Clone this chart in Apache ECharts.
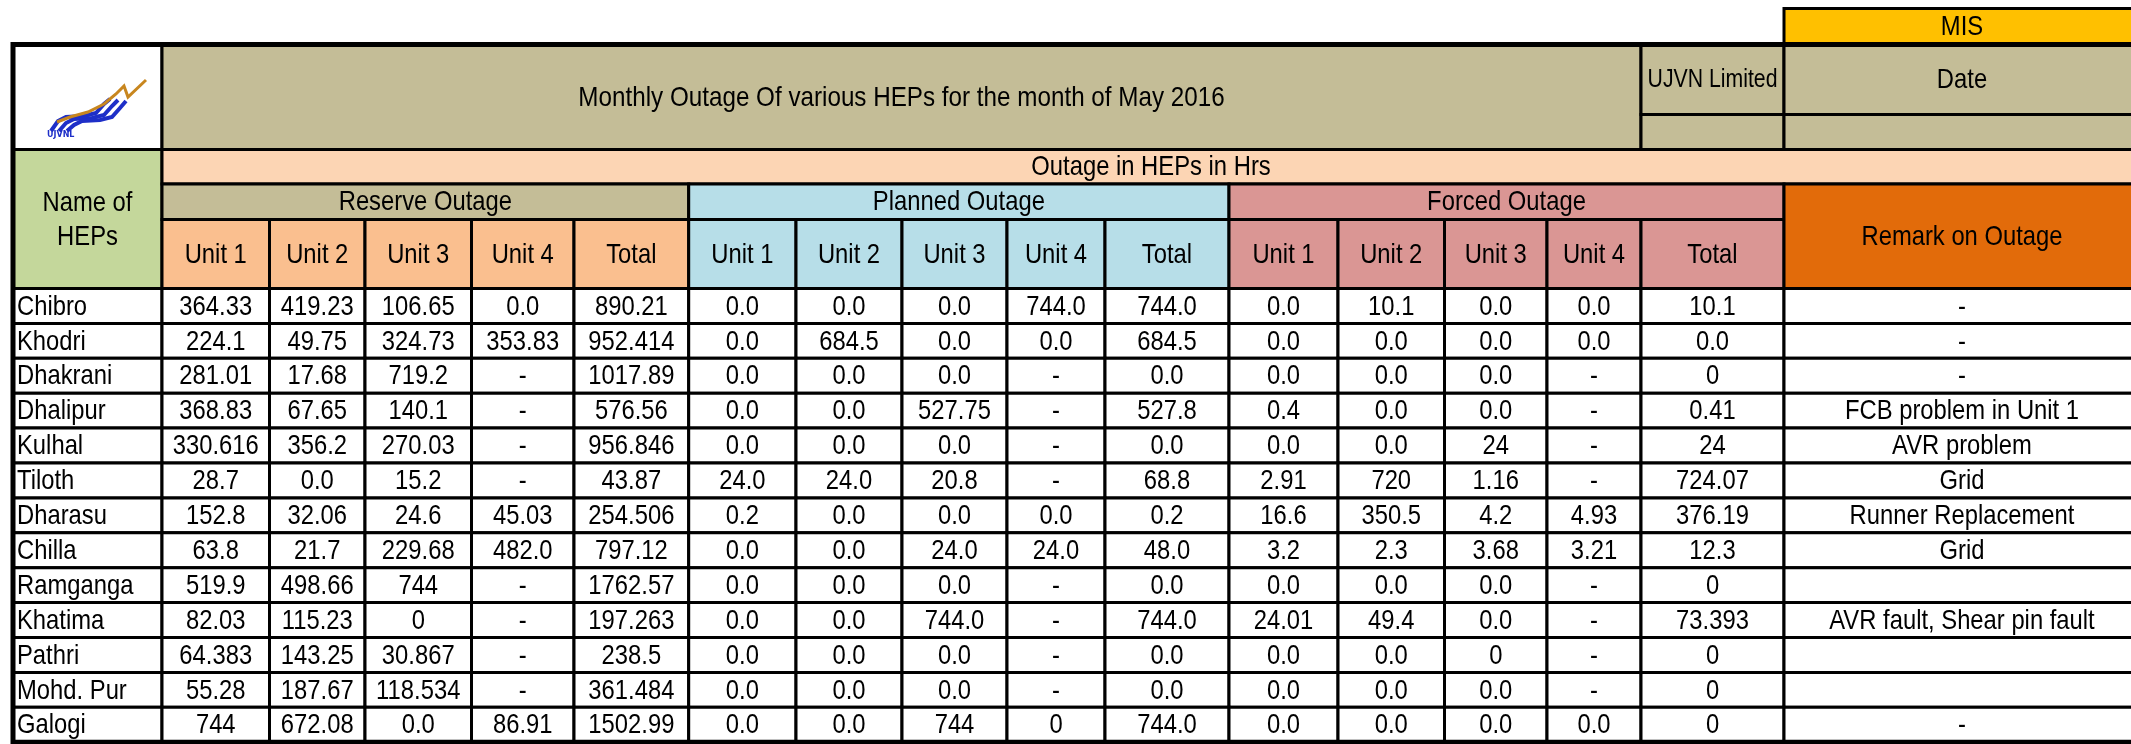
<!DOCTYPE html>
<html>
<head>
<meta charset="utf-8">
<script src="https://cdn.jsdelivr.net/npm/echarts@6/dist/echarts.min.js"></script>
<style>html,body{margin:0;padding:0;background:#fff}#c{width:2131px;height:744px}</style>
</head>
<body>
<div id="c"></div>
<script>
// ---------- DATA ----------
const title = 'Monthly Outage Of various HEPs for the month of May 2016';
const stations = ['Chibro','Khodri','Dhakrani','Dhalipur','Kulhal','Tiloth','Dharasu','Chilla','Ramganga','Khatima','Pathri','Mohd. Pur','Galogi'];
const unitLabels = ['Unit 1','Unit 2','Unit 3','Unit 4','Total'];
const groupLabels = ['Reserve Outage','Planned Outage','Forced Outage'];
const reserveU1 = ['364.33','224.1','281.01','368.83','330.616','28.7','152.8','63.8','519.9','82.03','64.383','55.28','744'];
const reserveU2 = ['419.23','49.75','17.68','67.65','356.2','0.0','32.06','21.7','498.66','115.23','143.25','187.67','672.08'];
const reserveU3 = ['106.65','324.73','719.2','140.1','270.03','15.2','24.6','229.68','744','0','30.867','118.534','0.0'];
const reserveU4 = ['0.0','353.83','-','-','-','-','45.03','482.0','-','-','-','-','86.91'];
const reserveTotal = ['890.21','952.414','1017.89','576.56','956.846','43.87','254.506','797.12','1762.57','197.263','238.5','361.484','1502.99'];
const plannedU1 = ['0.0','0.0','0.0','0.0','0.0','24.0','0.2','0.0','0.0','0.0','0.0','0.0','0.0'];
const plannedU2 = ['0.0','684.5','0.0','0.0','0.0','24.0','0.0','0.0','0.0','0.0','0.0','0.0','0.0'];
const plannedU3 = ['0.0','0.0','0.0','527.75','0.0','20.8','0.0','24.0','0.0','744.0','0.0','0.0','744'];
const plannedU4 = ['744.0','0.0','-','-','-','-','0.0','24.0','-','-','-','-','0'];
const plannedTotal = ['744.0','684.5','0.0','527.8','0.0','68.8','0.2','48.0','0.0','744.0','0.0','0.0','744.0'];
const forcedU1 = ['0.0','0.0','0.0','0.4','0.0','2.91','16.6','3.2','0.0','24.01','0.0','0.0','0.0'];
const forcedU2 = ['10.1','0.0','0.0','0.0','0.0','720','350.5','2.3','0.0','49.4','0.0','0.0','0.0'];
const forcedU3 = ['0.0','0.0','0.0','0.0','24','1.16','4.2','3.68','0.0','0.0','0','0.0','0.0'];
const forcedU4 = ['0.0','0.0','-','-','-','-','4.93','3.21','-','-','-','-','0.0'];
const forcedTotal = ['10.1','0.0','0','0.41','24','724.07','376.19','12.3','0','73.393','0','0','0'];
const remarks = ['-','-','-','FCB problem in Unit 1','AVR problem','Grid','Runner Replacement','Grid','','AVR fault, Shear pin fault','','','-'];

// ---------- LAYOUT (column edges / row bands in axis units) ----------
const colEdges = [13,162,269.5,365,471.5,574,688.7,796,902,1007,1105,1229,1338,1444.5,1547,1641,1784,2140];
const bandTitle = [44.5,149.5], bandOutage = [149.5,184], bandGroup = [184,219.5], bandUnit = [219.5,288.5];
const dataTop = 288.5, rowH = 34.9;
const FONT = '"Liberation Sans", Arial, sans-serif';
const SX = 0.85;
const C = {tan:'#C4BD97', peach:'#FCD5B4', green:'#C4D79B', resv:'#FABF8F', plan:'#B7DEE8', forc:'#DA9694', remark:'#E26B0A', mis:'#FFC000', white:'#FFFFFF'};

const columns = [stations, reserveU1, reserveU2, reserveU3, reserveU4, reserveTotal,
  plannedU1, plannedU2, plannedU3, plannedU4, plannedTotal,
  forcedU1, forcedU2, forcedU3, forcedU4, forcedTotal, remarks];

// header cells: [x0, x1, y0, y1, text, fill, fontSize]
const headerCells = [];
headerCells.push([colEdges[0], colEdges[1], bandTitle[0], bandTitle[1], '', C.white, 28]);
headerCells.push([colEdges[1], colEdges[15], bandTitle[0], bandTitle[1], title, C.tan, 28.5]);
headerCells.push([colEdges[15], colEdges[16], bandTitle[0], 114.5, 'UJVN Limited', C.tan, 25]);
headerCells.push([colEdges[15], colEdges[16], 114.5, bandTitle[1], '', C.tan, 25]);
headerCells.push([colEdges[16], colEdges[17], bandTitle[0], 114.5, 'Date', C.tan, 28]);
headerCells.push([colEdges[16], colEdges[17], 114.5, bandTitle[1], '', C.tan, 28]);
headerCells.push([colEdges[16], colEdges[17], 8.5, bandTitle[0], 'MIS', C.mis, 28]);
headerCells.push([colEdges[0], colEdges[1], bandOutage[0], bandUnit[1], 'Name of\nHEPs', C.green, 28]);
headerCells.push([colEdges[1], colEdges[17], bandOutage[0], bandOutage[1], 'Outage in HEPs in Hrs', C.peach, 28]);
const groupFills = [[C.tan, C.resv], [C.plan, C.plan], [C.forc, C.forc]];
groupLabels.forEach((g, gi) => {
  const c0 = 1 + gi * 5;
  headerCells.push([colEdges[c0], colEdges[c0 + 5], bandGroup[0], bandGroup[1], g, groupFills[gi][0], 28]);
  unitLabels.forEach((u, ui) => {
    headerCells.push([colEdges[c0 + ui], colEdges[c0 + ui + 1], bandUnit[0], bandUnit[1], u, groupFills[gi][1], 28]);
  });
});
headerCells.push([colEdges[16], colEdges[17], bandGroup[0], bandUnit[1], 'Remark on Outage', C.remark, 28]);

// data cells: [colIndex, rowIndex]
const dataCells = [];
stations.forEach((s, r) => { columns.forEach((col, c) => dataCells.push([c, r])); });

const chart = echarts.init(document.getElementById('c'), null, {renderer: 'canvas'});

function rectOf(api, x0, y0, x1, y1) {
  const p0 = api.coord([x0, y0]), p1 = api.coord([x1, y1]);
  return {x: p0[0], y: p0[1], width: p1[0] - p0[0], height: p1[1] - p0[1]};
}
function textEl(txt, x, y, size, align) {
  return {type: 'text', z2: 10, x: x, y: y, scaleX: SX, scaleY: 1,
    style: {text: txt, x: 0, y: 0, align: align || 'center', verticalAlign: 'middle',
      fontSize: size, fontFamily: FONT, fill: '#000', lineHeight: 34}};
}

const option = {
  animation: false,
  grid: {left: 0, right: 0, top: 0, bottom: 0},
  xAxis: {type: 'value', min: 0, max: 2131, show: false},
  yAxis: {type: 'value', min: 0, max: 744, inverse: true, show: false},
  series: [
    {
      type: 'custom', name: 'header', clip: false,
      data: headerCells.map((h, i) => [i]),
      renderItem: function (params, api) {
        const h = headerCells[params.dataIndex];
        const r = rectOf(api, h[0], h[2], h[1], h[3]);
        const children = [{type: 'rect', shape: r, style: {fill: h[5], stroke: '#000', lineWidth: 3}}];
        if (h[4]) children.push(textEl(h[4], r.x + r.width / 2, r.y + r.height / 2 + 1, h[6]));
        return {type: 'group', children: children};
      }
    },
    {
      type: 'custom', name: 'cells', clip: false,
      data: dataCells,
      renderItem: function (params, api) {
        const c = api.value(0), rr = api.value(1);
        const y0 = dataTop + rr * rowH, y1 = y0 + rowH;
        const r = rectOf(api, colEdges[c], y0, colEdges[c + 1], y1);
        const txt = columns[c][rr];
        const children = [{type: 'rect', shape: r, style: {fill: '#fff', stroke: '#000', lineWidth: 3}}];
        if (txt !== '') {
          if (c === 0) children.push(textEl(txt, r.x + 4, r.y + r.height / 2 + 1, 28, 'left'));
          else children.push(textEl(txt, r.x + r.width / 2, r.y + r.height / 2 + 1, 28));
        }
        return {type: 'group', children: children};
      }
    },
    {
      type: 'custom', name: 'outline', clip: false,
      data: [[0]],
      z: 5,
      renderItem: function (params, api) {
        const r = rectOf(api, colEdges[0], bandTitle[0], colEdges[17], dataTop + stations.length * rowH);
        return {type: 'rect', shape: r, style: {fill: 'none', stroke: '#000', lineWidth: 5}};
      }
    }
  ],
  graphic: [
    // logo (decorative)
    {type: 'polyline', z: 100, shape: {points: [[51,131],[58,121],[66,117],[84,116],[96,113],[104,104],[110,99]]}, style: {stroke: '#1E2FC8', lineWidth: 4, fill: 'none'}},
    {type: 'polyline', z: 100, shape: {points: [[59,131],[66,123],[74,119],[92,118],[104,115],[112,106],[118,100]]}, style: {stroke: '#1E2FC8', lineWidth: 4, fill: 'none'}},
    {type: 'polyline', z: 100, shape: {points: [[67,131],[74,125],[82,121],[100,120],[112,117],[120,108],[126,101]]}, style: {stroke: '#1E2FC8', lineWidth: 4, fill: 'none'}},
    {type: 'polyline', z: 100, shape: {points: [[57,122],[70,117],[88,112],[104,104],[116,94],[124,86],[128,97],[146,80]]}, style: {stroke: '#C8861E', lineWidth: 3, fill: 'none'}},
    {type: 'text', z: 100, style: {text: 'UJVNL', x: 47, y: 131, fontSize: 8, fontWeight: 'bold', fontFamily: 'DejaVu Sans', fill: '#1E2FC8'}}
  ]
};
chart.setOption(option);
</script>
</body>
</html>
